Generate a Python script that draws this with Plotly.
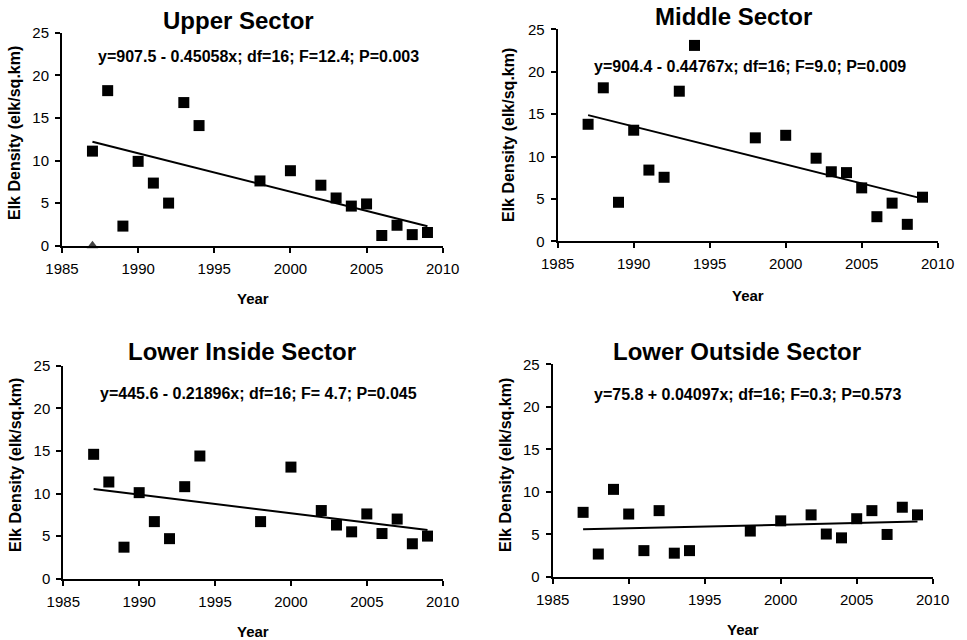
import plotly.graph_objects as go

W, H = 967, 640

years = [1987, 1988, 1989, 1990, 1991, 1992, 1993, 1994, 1998, 2000,
         2002, 2003, 2004, 2005, 2006, 2007, 2008, 2009]

upper = [11.1, 18.2, 2.3, 9.9, 7.35, 5.0, 16.8, 14.1, 7.6, 8.8,
         7.1, 5.6, 4.65, 4.9, 1.2, 2.4, 1.3, 1.55]
middle = [13.8, 18.1, 4.6, 13.1, 8.4, 7.55, 17.7, 23.1, 12.2, 12.5,
          9.8, 8.2, 8.1, 6.3, 2.9, 4.5, 2.0, 5.2]
lower_inside = [14.6, 11.35, 3.7, 10.1, 6.7, 4.7, 10.8, 14.4, 6.7, 13.1,
                8.0, 6.3, 5.5, 7.6, 5.3, 7.0, 4.1, 5.0]
lower_outside = [7.6, 2.7, 10.3, 7.4, 3.1, 7.8, 2.8, 3.1, 5.4, 6.6,
                 7.3, 5.05, 4.6, 6.85, 7.8, 5.0, 8.2, 7.3]

upper_extra_year = [1987]
upper_extra_value = [0]

titles = ["Upper Sector", "Middle Sector", "Lower Inside Sector", "Lower Outside Sector"]
# fitted line coefficients (the drawn Lower Outside line corresponds to intercept -75.8)
intercepts = [907.5, 904.4, 445.6, -75.8]
slopes = [-0.45058, -0.44767, -0.21896, 0.04097]
equations = [
    "y=907.5 - 0.45058x; df=16; F=12.4; P=0.003",
    "y=904.4 - 0.44767x; df=16; F=9.0; P=0.009",
    "y=445.6 - 0.21896x; df=16; F= 4.7; P=0.045",
    "y=75.8 + 0.04097x; df=16; F=0.3; P=0.573",
]
series = [upper, middle, lower_inside, lower_outside]

x_ticks = [1985, 1990, 1995, 2000, 2005, 2010]
y_ticks = [0, 5, 10, 15, 20, 25]

# plot area boxes in pixels: (left, top, right, bottom)
boxes = [
    (62, 32.7, 442.7, 245.7),
    (557.7, 29.3, 937.7, 241.3),
    (63.3, 365.7, 442.7, 578.7),
    (552.7, 364.3, 932.7, 577.0),
]
title_pos = [(238, 20), (733, 16), (242, 351), (737, 351)]
eq_pos = [(258, 56), (750, 66), (258, 393), (747, 394)]
year_pos = [(253, 298), (748, 295), (253, 631), (743, 629)]
ytitle_pos = [(15, 133), (508, 135), (15, 465), (505, 465)]

FONT = "Liberation Sans, Arial, sans-serif"


def px(x):
    return x / W


def py(y):
    return 1 - y / H


fig = go.Figure()
annotations = []
layout = {}

for i in range(4):
    n = "" if i == 0 else str(i + 1)
    l, t, r, b = boxes[i]
    common = dict(ticks="outside", ticklen=5, tickwidth=1.5,
                  tickcolor="black", showline=True, linecolor="black", linewidth=2,
                  showgrid=False, zeroline=False, automargin=False,
                  ticklabelstandoff=3,
                  tickfont=dict(family=FONT, size=15, color="black"))
    xa = dict(domain=[px(l), px(r)], range=[1985, 2010], anchor="y" + n,
              tickvals=x_ticks, **common)
    ya = dict(domain=[py(b), py(t)], range=[0, 25], anchor="x" + n,
              tickvals=y_ticks, **common)
    layout["xaxis" + n] = xa
    layout["yaxis" + n] = ya

    fig.add_trace(go.Scatter(
        x=years, y=series[i], mode="markers",
        marker=dict(symbol="square", size=11, color="black"),
        xaxis="x" + n, yaxis="y" + n, showlegend=False, cliponaxis=False))

    x0, x1 = min(years), max(years)
    fig.add_trace(go.Scatter(
        x=[x0, x1], y=[intercepts[i] + slopes[i] * x0, intercepts[i] + slopes[i] * x1],
        mode="lines", line=dict(color="black", width=2),
        xaxis="x" + n, yaxis="y" + n, showlegend=False))

    if i == 0:
        fig.add_trace(go.Scatter(
            x=upper_extra_year, y=upper_extra_value, mode="markers",
            marker=dict(symbol="triangle-up", size=10, color="#444444"),
            xaxis="x", yaxis="y", showlegend=False, cliponaxis=False))

    annotations.append(dict(x=px(title_pos[i][0]), y=py(title_pos[i][1]), xref="paper", yref="paper",
                            text="<b>%s</b>" % titles[i], showarrow=False,
                            xanchor="center", yanchor="middle",
                            font=dict(family=FONT, size=24, color="black")))
    annotations.append(dict(x=px(eq_pos[i][0]), y=py(eq_pos[i][1]), xref="paper", yref="paper",
                            text="<b>%s</b>" % equations[i], showarrow=False,
                            xanchor="center", yanchor="middle",
                            font=dict(family=FONT, size=16, color="black")))
    annotations.append(dict(x=px(year_pos[i][0]), y=py(year_pos[i][1]), xref="paper", yref="paper",
                            text="<b>Year</b>", showarrow=False,
                            xanchor="center", yanchor="middle",
                            font=dict(family=FONT, size=15, color="black")))
    annotations.append(dict(x=px(ytitle_pos[i][0]), y=py(ytitle_pos[i][1]), xref="paper", yref="paper",
                            text="<b>Elk Density (elk/sq.km)</b>", showarrow=False, textangle=-90,
                            xanchor="center", yanchor="middle",
                            font=dict(family=FONT, size=16, color="black")))

fig.update_layout(
    width=W, height=H, margin=dict(l=0, r=0, t=0, b=0, autoexpand=False),
    paper_bgcolor="white", plot_bgcolor="white",
    annotations=annotations, **layout)

fig.write_html("out.html")
